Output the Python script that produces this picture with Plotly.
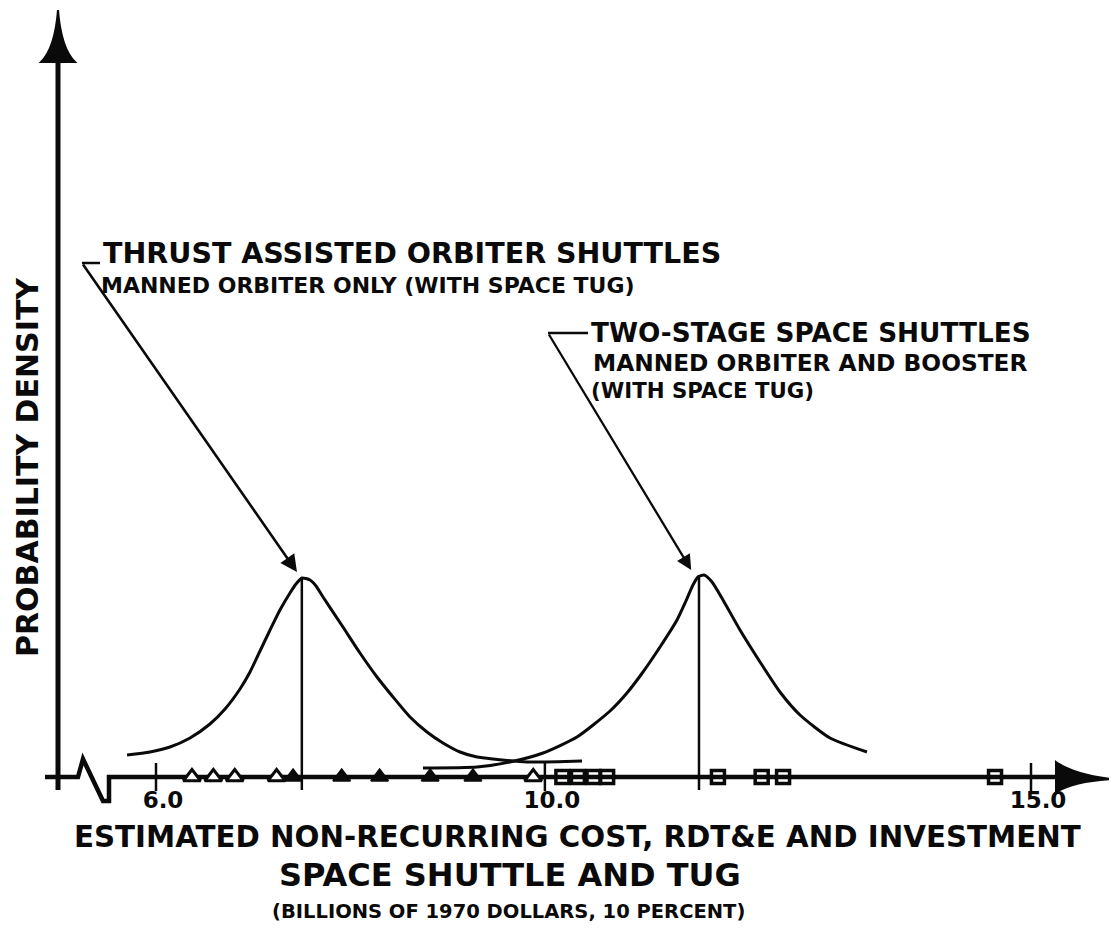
import plotly.graph_objects as go

# ---------------- data ----------------
# x: estimated non-recurring cost (billions of 1970 dollars); y: relative probability density
TAO_CURVE_X = [5.702, 5.938, 6.144, 6.350, 6.555, 6.710, 6.864, 6.967, 7.070, 7.173, 7.275,
               7.378, 7.440, 7.502, 7.584, 7.646, 7.718, 7.923, 8.098, 8.273, 8.438, 8.613,
               8.787, 8.952, 9.127, 9.302, 9.466, 9.816, 10.382]
TAO_CURVE_Y = [0.22, 0.25, 0.30, 0.39, 0.53, 0.68, 0.88, 1.05, 1.26, 1.47, 1.67,
               1.84, 1.93, 1.99, 1.97, 1.91, 1.80, 1.50, 1.24, 1.00, 0.80, 0.60,
               0.45, 0.34, 0.25, 0.20, 0.18, 0.15, 0.16]

TSS_CURVE_X = [8.746, 9.302, 9.641, 9.981, 10.330, 10.670, 10.844, 11.009, 11.184, 11.359,
               11.451, 11.523, 11.575, 11.637, 11.719, 11.832, 12.007, 12.213, 12.418,
               12.624, 12.933, 13.313]
TSS_CURVE_Y = [0.09, 0.10, 0.15, 0.24, 0.40, 0.66, 0.84, 1.05, 1.30, 1.57,
               1.76, 1.92, 2.00, 2.02, 1.95, 1.77, 1.47, 1.15, 0.85,
               0.62, 0.39, 0.25]

PEAK_X = [7.50, 11.585]          # most likely costs (vertical lines)
PEAK_Y = [1.99, 2.02]

TAO_OPEN_X = [6.37, 6.59, 6.81, 7.24, 9.88]      # thrust assisted estimates (open triangles)
TAO_FILLED_X = [7.41, 7.91, 8.30, 8.82, 9.26]    # thrust assisted estimates (filled triangles)
TSS_X = [10.18, 10.34, 10.50, 10.64, 11.78, 12.23, 12.45, 14.63]  # two-stage estimates (squares)

TICK_VALS = [6.0, 10.0, 15.0]
TICK_TEXT = ["6.0", "10.0", "15.0"]

# ---------------- layout helpers ----------------
W, H = 1117, 930
PAGE_OFF = 8                  # the page body margin shifts the figure by 8 px
X_PER_PX = 9.0 / 875.0        # 6.0 at page px 156, 15.0 at page px 1031
Y_PER_PX = 0.01               # baseline at page px 777
def px_x(p):
    return 6.0 + (p - 156) * X_PER_PX
def px_y(p):
    return (777 - p) * Y_PER_PX

XR = [px_x(PAGE_OFF), px_x(PAGE_OFF + W)]
YR = [px_y(PAGE_OFF + H), px_y(PAGE_OFF)]
FONT = "DejaVu Sans"
INK = "#0a0a0a"

fig = go.Figure()

# density curves
for cx, cy, nm in [(TAO_CURVE_X, TAO_CURVE_Y, "Thrust assisted"),
                   (TSS_CURVE_X, TSS_CURVE_Y, "Two-stage")]:
    fig.add_trace(go.Scatter(x=cx, y=cy, mode="lines", name=nm, showlegend=False,
                             line=dict(color=INK, width=3, shape="spline", smoothing=0.6)))
# vertical peak lines
for px_, py_ in zip(PEAK_X, PEAK_Y):
    fig.add_trace(go.Scatter(x=[px_, px_], y=[-0.13, py_], mode="lines",
                             line=dict(color=INK, width=2.5), showlegend=False, hoverinfo="skip"))

# tick crosses
fig.add_trace(go.Scatter(x=TICK_VALS, y=[0] * len(TICK_VALS), mode="markers",
                         marker=dict(symbol="line-ns", size=20, color=INK,
                                     line=dict(color=INK, width=2.5)),
                         showlegend=False, hoverinfo="skip"))

# estimate markers along the axis
fig.add_trace(go.Scatter(x=TAO_OPEN_X, y=[0] * len(TAO_OPEN_X), mode="markers",
                         marker=dict(symbol="triangle-up", size=15, color="white",
                                     line=dict(color=INK, width=3)),
                         showlegend=False))
fig.add_trace(go.Scatter(x=TAO_FILLED_X, y=[0] * len(TAO_FILLED_X), mode="markers",
                         marker=dict(symbol="triangle-up", size=15, color=INK,
                                     line=dict(color=INK, width=2)),
                         showlegend=False))
fig.add_trace(go.Scatter(x=TSS_X, y=[0] * len(TSS_X), mode="markers",
                         marker=dict(symbol="square-open", size=13, color=INK,
                                     line=dict(color=INK, width=3.5)),
                         showlegend=False))

shapes = []
# x axis with a break squiggle
xa = [px_x(45), px_x(78), px_x(83), px_x(103), px_x(109), px_x(109), px_x(1060)]
ya = [0, 0, px_y(759), px_y(801), px_y(801), 0, 0]
path = "M " + " L ".join(f"{a},{b}" for a, b in zip(xa, ya))
shapes.append(dict(type="path", path=path, xref="x", yref="y",
                   line=dict(color=INK, width=4.5), layer="below"))
# x arrow head
tx, bx = px_x(1112), px_x(1056)
mx = px_x(1075)
shapes.append(dict(type="path", xref="x", yref="y", layer="below",
                   path=(f"M {tx},{px_y(779)} Q {mx},{px_y(775)} {bx},{px_y(762)} "
                         f"L {bx},{px_y(792)} Q {mx},{px_y(781)} {tx},{px_y(779)} Z"),
                   fillcolor=INK, line=dict(color=INK, width=2)))
# y axis
yx = px_x(58)
shapes.append(dict(type="line", xref="x", yref="y", x0=yx, x1=yx, y0=px_y(790), y1=px_y(40),
                   line=dict(color=INK, width=5), layer="below"))
shapes.append(dict(type="path", xref="x", yref="y", layer="below",
                   path=(f"M {yx},{px_y(10)} Q {px_x(61)},{px_y(48)} {px_x(75)},{px_y(62)} "
                         f"L {px_x(41)},{px_y(62)} Q {px_x(55)},{px_y(48)} {yx},{px_y(10)} Z"),
                   fillcolor=INK, line=dict(color=INK, width=2)))
# leader hooks for callouts
shapes.append(dict(type="line", xref="x", yref="y", x0=px_x(82), x1=px_x(100),
                   y0=px_y(263), y1=px_y(263), line=dict(color=INK, width=2.5)))
shapes.append(dict(type="line", xref="x", yref="y", x0=px_x(548), x1=px_x(588),
                   y0=px_y(333), y1=px_y(333), line=dict(color=INK, width=2.5)))

annotations = []
# callout arrows to the peaks
annotations.append(dict(x=PEAK_X[0] - 0.05, y=PEAK_Y[0] + 0.06, ax=px_x(82), ay=px_y(263),
                        xref="x", yref="y", axref="x", ayref="y", text="", showarrow=True,
                        arrowhead=2, arrowsize=1.3, arrowwidth=2.6, arrowcolor=INK))
annotations.append(dict(x=PEAK_X[1] - 0.08, y=PEAK_Y[1] + 0.05, ax=px_x(548), ay=px_y(333),
                        xref="x", yref="y", axref="x", ayref="y", text="", showarrow=True,
                        arrowhead=2, arrowsize=1.3, arrowwidth=2.3, arrowcolor=INK))

def label(text, xp, yp, size, xanchor="left", angle=0):
    annotations.append(dict(text=text, x=px_x(xp), y=px_y(yp), xref="x", yref="y",
                            xanchor=xanchor, yanchor="middle", showarrow=False,
                            textangle=angle,
                            font=dict(family=FONT, size=size, color=INK, weight="bold")))

label("THRUST ASSISTED ORBITER SHUTTLES", 101, 253, 28.5)
label("MANNED ORBITER ONLY (WITH SPACE TUG)", 99, 285, 22)
label("TWO-STAGE SPACE SHUTTLES", 589, 333, 26.3)
label("MANNED ORBITER AND BOOSTER", 591, 362, 23.3)
label("(WITH SPACE TUG)", 589, 390, 21.3)
label("PROBABILITY DENSITY", 27, 467, 30, xanchor="center", angle=-90)
label("ESTIMATED NON-RECURRING COST, RDT&E AND INVESTMENT", 577, 837, 29.3, xanchor="center")
label("SPACE SHUTTLE AND TUG", 510, 875, 32, xanchor="center")
label("(BILLIONS OF 1970 DOLLARS, 10 PERCENT)", 508, 911, 19.5, xanchor="center")

fig.update_layout(
    width=W, height=H,
    margin=dict(l=0, r=0, t=0, b=0),
    paper_bgcolor="white", plot_bgcolor="white",
    showlegend=False,
    shapes=shapes, annotations=annotations,
    xaxis=dict(range=XR, anchor="free", position=(H + PAGE_OFF - 777) / H,
               showline=False, zeroline=False, showgrid=False,
               tickmode="array", tickvals=TICK_VALS, ticktext=TICK_TEXT,
               ticks="", ticklabelstandoff=7, ticklabelshift=7,
               tickfont=dict(family=FONT, size=23, color=INK, weight="bold"),
               fixedrange=True),
    yaxis=dict(range=YR, visible=False, fixedrange=True),
)

fig.write_html("out.html")
